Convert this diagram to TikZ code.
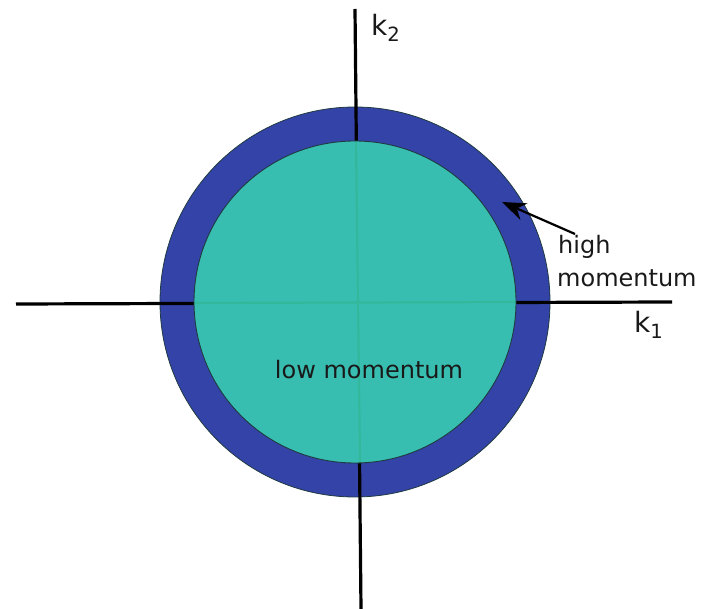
\documentclass[tikz,border=0pt]{standalone}
\usepackage{fontspec}
\setmainfont{DejaVu Sans}
\usetikzlibrary{arrows.meta}
\definecolor{ringblue}{HTML}{3343A8}
\definecolor{coreteal}{HTML}{38BEB0}
\definecolor{faintaxis}{HTML}{33B89C}
\definecolor{rimdark}{HTML}{1F3A40}
\tikzset{
  axis/.style={line width=3.2pt,black},
  inneraxis/.style={line width=2.2pt,faintaxis},
  lbl/.style={font=\fontsize{24}{28}\selectfont,inner sep=0pt,text=black!90},
  axlbl/.style={font=\fontsize{28}{30}\selectfont,inner sep=0pt,text=black!90},
}
\begin{document}
\begin{tikzpicture}[x=1pt,y=-1pt]
\useasboundingbox (0,0) rectangle (705,609);
\coordinate (c) at (355,302);
\coordinate (top) at (355,9);
\coordinate (bot) at (361,609);
\coordinate (left) at (16,304);
\coordinate (right) at (672,302);
% outer ring
\fill[ringblue] (c) circle[radius=195];
\draw[rimdark,line width=0.8pt] (c) circle[radius=195];
% axes
\draw[axis] (top) -- (bot);
\draw[axis] (left) -- (right);
% inner disk
\fill[coreteal] (c) circle[radius=161];
\draw[inneraxis] (356,141) -- (360,463);
\draw[inneraxis] (194,303) -- (516,302);
\draw[rimdark,line width=0.9pt] (c) circle[radius=161];
% labels
\node[axlbl,anchor=west] (k2) at (371,28) {k\textsubscript{2}};
\node[axlbl,anchor=west] (k1) at (634,325) {k\textsubscript{1}};
\node[lbl,anchor=west] (high) at (558,247) {high};
\node[lbl,anchor=west] (mom) at (557,278) {momentum};
\node[lbl] (low) at (369,370) {low momentum};
\coordinate (tip) at (502,202);
\coordinate (tail) at (575,234);
\draw[line width=2.2pt,-{Stealth[length=24pt,width=18pt]}] (tail) -- (tip);
\end{tikzpicture}
\end{document}
